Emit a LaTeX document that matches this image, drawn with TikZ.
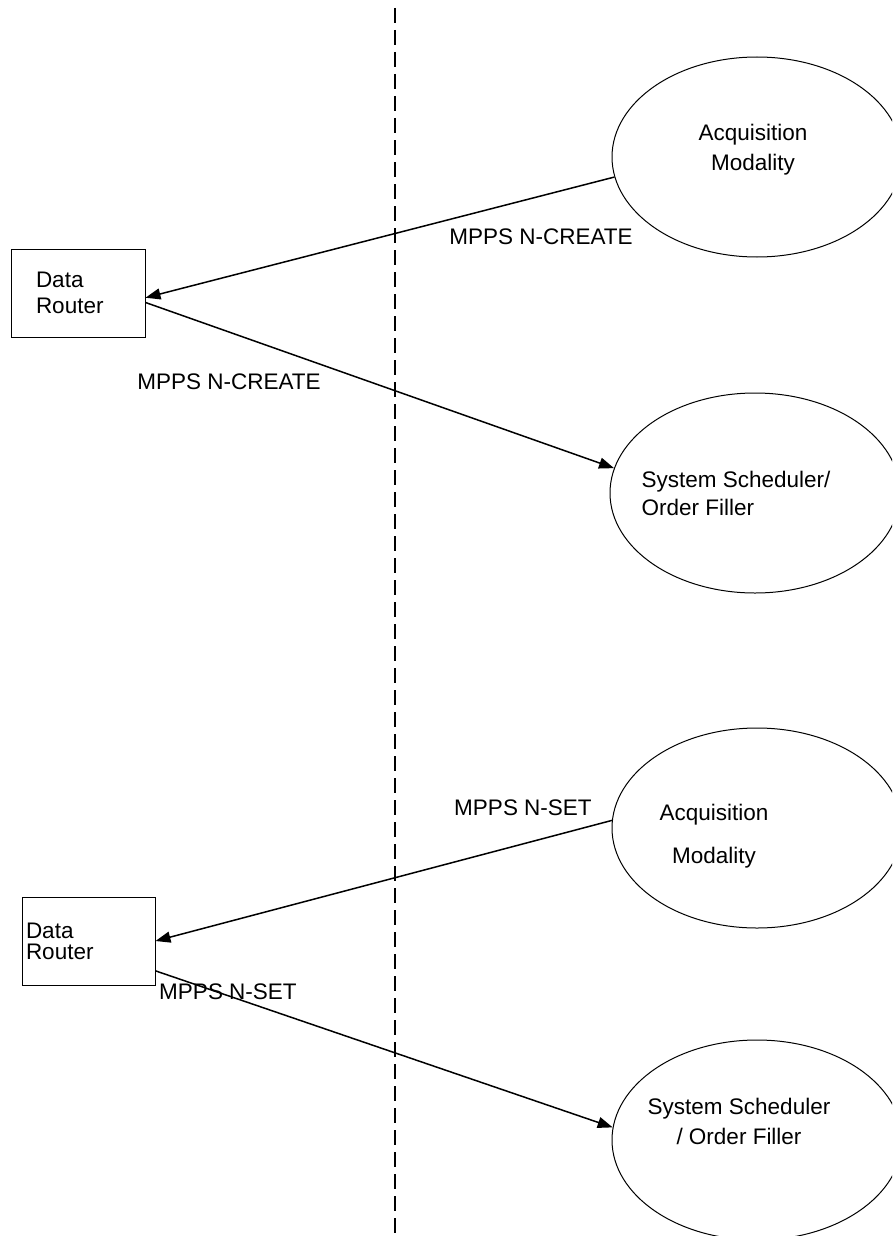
\documentclass[tikz,border=0pt]{standalone}
\usepackage{fontspec}
\setmainfont{Liberation Sans}
\usetikzlibrary{shapes.geometric,arrows.meta}

\tikzset{
  role/.style={draw, ellipse, minimum width=290pt, minimum height=200pt, inner sep=0pt},
  router/.style={draw, rectangle, minimum height=88pt, align=left, inner ysep=0pt},
  msg/.style={line width=1.5pt, -{Triangle[length=15pt,width=11pt]}},
  tag/.style={inner sep=0pt, align=center},
}

\begin{document}
\begin{tikzpicture}[x=1pt, y=-1pt, line width=1pt, font=\fontsize{22.5}{27}\selectfont]
\useasboundingbox (0,0) rectangle (892,1236);
\clip (0,0) rectangle (892,1236);

% dividing line
\draw[line width=1.5pt, dash pattern=on 15pt off 7pt] (395,8) -- (395,1236);

% N-CREATE
\node[role] (am1) at (757,157) {};
\node[tag, font=\fontsize{22.5}{30}\selectfont] (am1t) at (753,150) {Acquisition\\Modality};
\node[role] (ss1) at (755,493) {};
\node[tag, align=left, font=\fontsize{22.5}{28}\selectfont] (ss1t) at (736,493) {System Scheduler/\\Order Filler};
\node[router, text width=84pt, inner xsep=25pt, font=\fontsize{22.5}{26}\selectfont] (dr1) at (78,293) {Data\\Router};

\draw[msg] (am1.188) -- (dr1.-4);
\draw[msg] (dr1.-8) -- (ss1.170);
\node[tag] (c1) at (541,237) {MPPS N-CREATE};
\node[tag] (c2) at (229,382) {MPPS N-CREATE};

% N-SET
\node[role] (am2) at (757,828) {};
\node[tag, font=\fontsize{22.5}{43}\selectfont] (am2t) at (714,836) {Acquisition\\Modality};
\node[role] (ss2) at (757,1140) {};
\node[tag, font=\fontsize{22.5}{30}\selectfont] (ss2t) at (739,1121) {System Scheduler\\/ Order Filler};
\node[router, text width=125pt, inner xsep=4pt, font=\fontsize{22.5}{21}\selectfont] (dr2) at (88.5,941) {Data\\Router};

\draw[msg] (am2.177) -- (dr2.east);
\draw[msg] (dr2.-24) -- (ss2.175);
\node[tag] (s1) at (523,808) {MPPS N-SET};
\node[tag] (s2) at (228,992) {MPPS N-SET};
\end{tikzpicture}
\end{document}
